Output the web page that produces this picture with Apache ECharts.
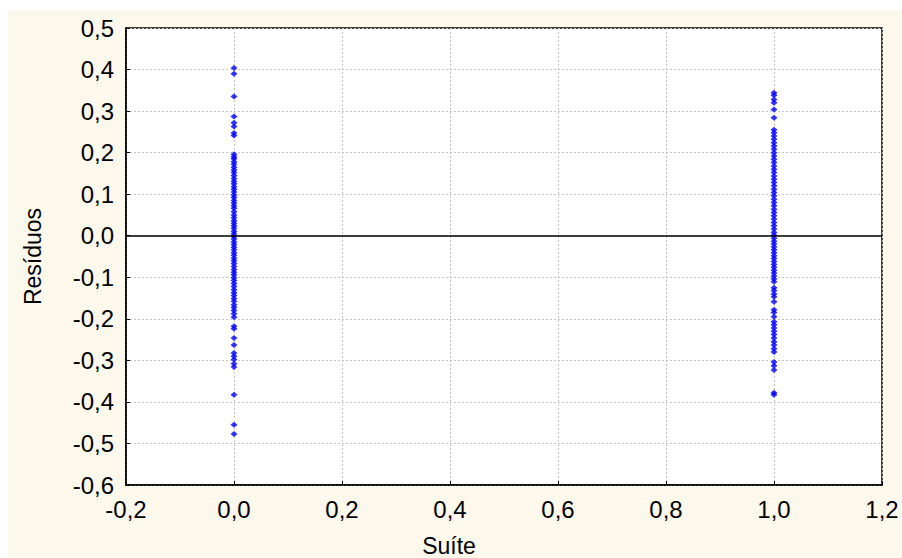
<!DOCTYPE html>
<html>
<head>
<meta charset="utf-8">
<script src="https://cdn.jsdelivr.net/npm/echarts@6/dist/echarts.min.js"></script>
<style>
html,body{margin:0;padding:0;background:#ffffff;}
#c{width:902px;height:558px;}
</style>
</head>
<body>
<div id="c"></div>
<script>
// Data
const xTicks = [-0.2, 0.0, 0.2, 0.4, 0.6, 0.8, 1.0, 1.2];
const yTicks = [-0.6, -0.5, -0.4, -0.3, -0.2, -0.1, 0.0, 0.1, 0.2, 0.3, 0.4, 0.5];
const suite0X = 0.0;
const suite0Residuals = [0.404, 0.39, 0.335, 0.287, 0.272, 0.263, 0.247, 0.241, 0.196, 0.19, 0.185, 0.178,
  0.172, 0.165, 0.158, 0.152, 0.145, 0.138, 0.131, 0.125, 0.118, 0.112, 0.105, 0.098, 0.092, 0.085, 0.079,
  0.072, 0.066, 0.058, 0.05, 0.043, 0.036, 0.03, 0.024, 0.018, 0.011, 0.005, -0.002, -0.008, -0.015, -0.021,
  -0.028, -0.034, -0.041, -0.047, -0.054, -0.06, -0.067, -0.074, -0.081, -0.088, -0.094, -0.101, -0.108,
  -0.115, -0.122, -0.13, -0.137, -0.144, -0.151, -0.158, -0.166, -0.173, -0.18, -0.188, -0.196, -0.218,
  -0.224, -0.246, -0.263, -0.282, -0.29, -0.298, -0.308, -0.316, -0.383, -0.455, -0.477];
const suite1X = 1.0;
const suite1Residuals = [0.344, 0.338, 0.328, 0.32, 0.304, 0.284, 0.255, 0.248, 0.24, 0.232, 0.224, 0.216,
  0.208, 0.2, 0.192, 0.184, 0.176, 0.168, 0.16, 0.152, 0.144, 0.136, 0.128, 0.12, 0.112, 0.104, 0.096, 0.088,
  0.08, 0.072, 0.064, 0.056, 0.048, 0.04, 0.032, 0.024, 0.016, 0.008, 0.001, -0.006, -0.013, -0.02, -0.027,
  -0.034, -0.041, -0.048, -0.055, -0.062, -0.069, -0.076, -0.083, -0.09, -0.097, -0.104, -0.111, -0.125,
  -0.132, -0.14, -0.147, -0.159, -0.178, -0.185, -0.195, -0.207, -0.214, -0.222, -0.23, -0.238, -0.246,
  -0.255, -0.263, -0.272, -0.28, -0.304, -0.313, -0.323, -0.378, -0.383];
const xName = 'Suíte';
const yName = 'Resíduos';

const points = suite0Residuals.map(v => [suite0X, v]).concat(suite1Residuals.map(v => [suite1X, v]));
const fmt = v => (Math.abs(v) < 1e-9 ? 0 : v).toFixed(1).replace('.', ',');
const font = 'Arial, "Liberation Sans", sans-serif';

const chart = echarts.init(document.getElementById('c'), null, {renderer: 'svg'});
chart.setOption({
  animation: false,
  backgroundColor: '#ffffff',
  graphic: [{
    type: 'rect', left: 8, top: 10, z: -10,
    shape: {width: 894, height: 548},
    style: {fill: '#fdf8ec'}
  }],
  grid: {
    left: 126, right: 20, top: 28, bottom: 73,
    outerBoundsMode: 'none', containLabel: false,
    show: true, backgroundColor: '#ffffff', borderColor: '#000000', borderWidth: 1.5
  },
  xAxis: {
    type: 'value',
    min: xTicks[0], max: xTicks[xTicks.length - 1], interval: 0.2,
    name: xName, nameLocation: 'middle', nameGap: 49,
    nameTextStyle: {fontFamily: font, fontSize: 23, color: '#000', padding: [0, 110, 0, 0]},
    axisLine: {show: true, onZero: false, lineStyle: {color: '#000', width: 1.5}},
    axisTick: {show: true, inside: true, length: 4, lineStyle: {color: '#000'}},
    axisLabel: {formatter: fmt, fontFamily: font, fontSize: 24, color: '#000', margin: 12},
    splitLine: {show: true, lineStyle: {color: '#c4c4c4', type: [2, 2], width: 1}}
  },
  yAxis: {
    type: 'value',
    min: yTicks[0], max: yTicks[yTicks.length - 1], interval: 0.1,
    name: yName, nameLocation: 'middle', nameGap: 82, nameRotate: 90,
    nameTextStyle: {fontFamily: font, fontSize: 23, color: '#000'},
    axisLine: {show: true, onZero: false, lineStyle: {color: '#000', width: 1.5}},
    axisTick: {show: true, inside: true, length: 4, lineStyle: {color: '#000'}},
    axisLabel: {formatter: fmt, fontFamily: font, fontSize: 24, color: '#000', margin: 12},
    splitLine: {show: true, lineStyle: {color: '#c4c4c4', type: [2, 2], width: 1}}
  },
  series: [{
    type: 'scatter',
    data: points,
    symbol: 'diamond',
    symbolSize: [7, 6],
    itemStyle: {color: '#0000ff'},
    markLine: {
      silent: true, symbol: 'none', label: {show: false},
      lineStyle: {color: '#000', type: 'solid', width: 1.5},
      data: [{yAxis: 0}]
    }
  }]
});
</script>
</body>
</html>
